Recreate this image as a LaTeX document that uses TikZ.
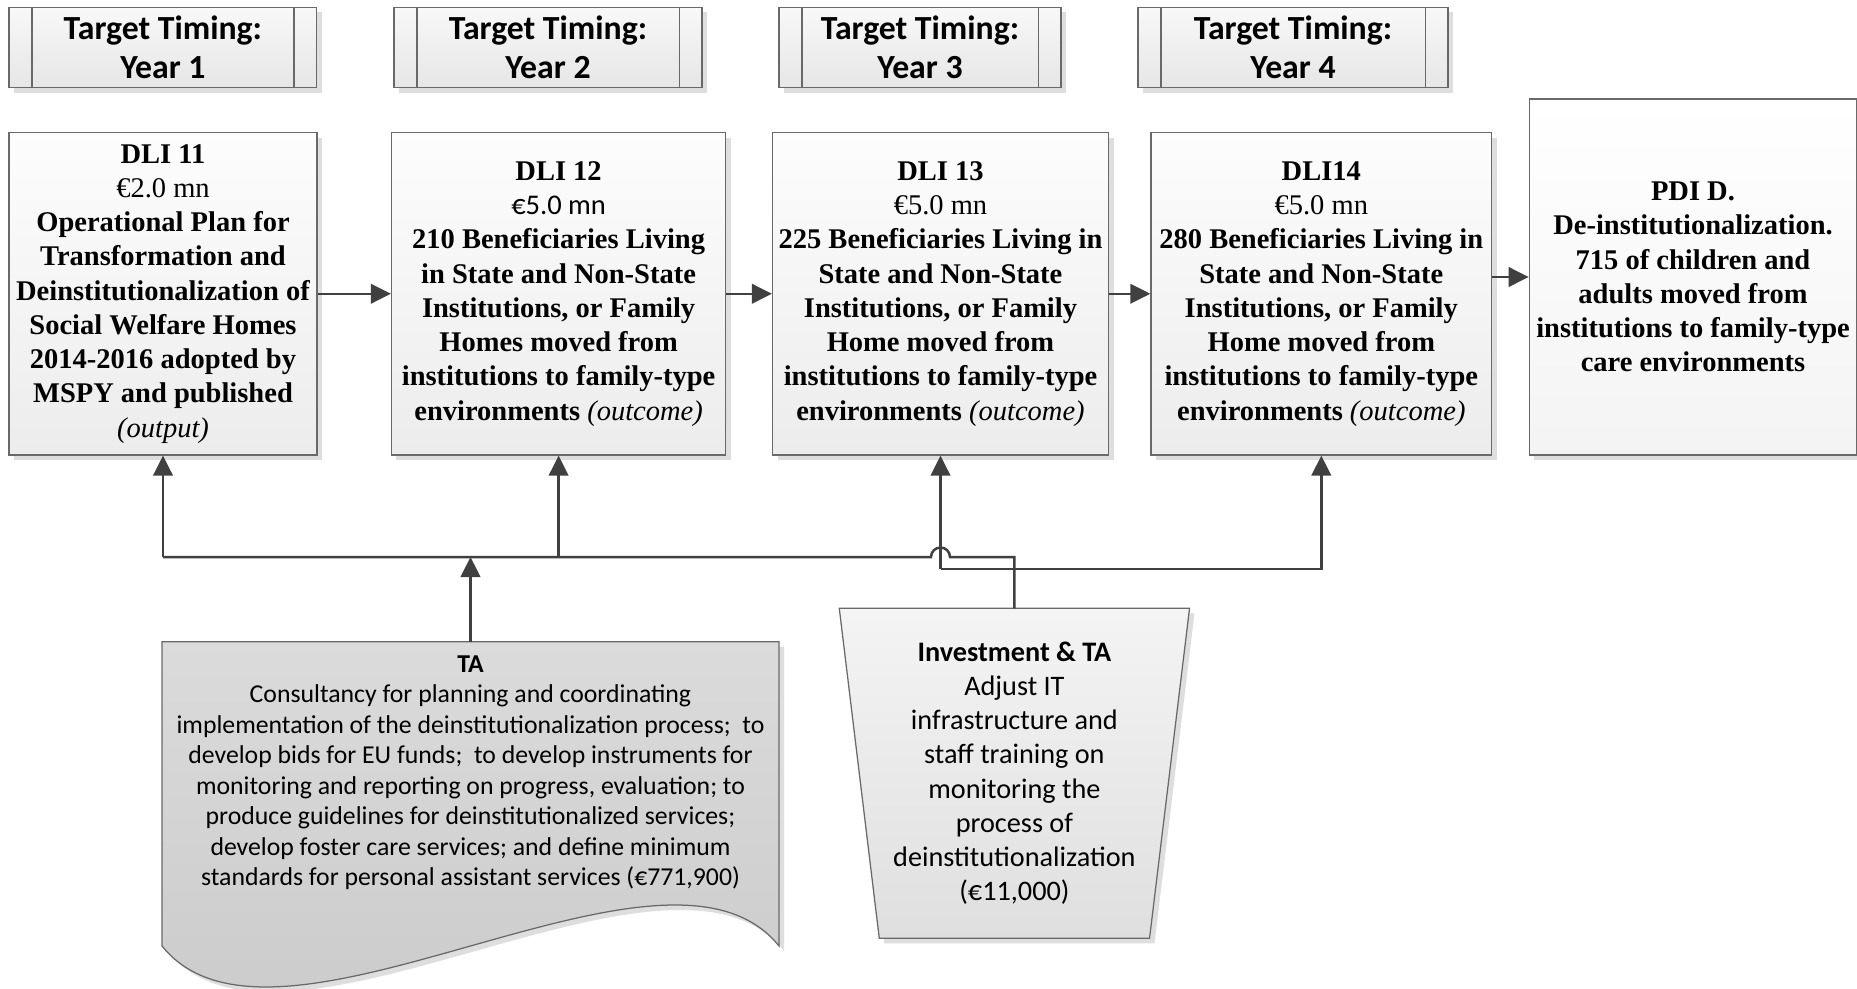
\documentclass[tikz,border=0pt]{standalone}
\usepackage{fontspec}
\setmainfont{Liberation Serif}
\newfontfamily\calibri{Carlito}
\usetikzlibrary{positioning, calc, arrows.meta, shadows, backgrounds}
\definecolor{cLine}{RGB}{64,64,64}
\definecolor{cBorder}{RGB}{105,105,105}
\definecolor{cShadow}{RGB}{222,222,222}
\definecolor{cBoxTop}{RGB}{253,253,253}
\definecolor{cBoxBot}{RGB}{236,236,236}
\definecolor{cTimeTop}{RGB}{248,248,248}
\definecolor{cTimeBot}{RGB}{230,230,230}
\definecolor{cTATop}{RGB}{219,219,219}
\definecolor{cTABot}{RGB}{200,200,200}
\definecolor{cInvTop}{RGB}{244,244,244}
\definecolor{cInvBot}{RGB}{223,223,223}

\begin{document}
\begin{tikzpicture}[x=0.4pt, y=-0.4pt, >={Triangle[length=8pt, width=7.8pt]}]

\useasboundingbox (0,0) rectangle (1857,988);

% ------------------- styles -------------------
\tikzstyle{shadowed} = [drop shadow={shadow xshift=2pt, shadow yshift=-2pt, fill=cShadow, opacity=1}]
\tikzstyle{timebox} = [draw=cBorder, line width=0.5pt, top color=cTimeTop, bottom color=cTimeBot, shadowed, rectangle, minimum height=32.1pt, inner sep=1pt, align=center, font=\calibri\bfseries\fontsize{13.5}{15.3}\selectfont]
\tikzstyle{dlibox} = [draw=cBorder, line width=0.5pt, top color=cBoxTop, bottom color=cBoxBot, shadowed, rectangle, minimum height=129pt, inner sep=1pt, align=center, font=\bfseries\fontsize{11.4}{13.7}\selectfont]
\tikzstyle{shapebox} = [rectangle, inner sep=0pt, outer sep=0pt, align=center]
\tikzstyle{tatext} = [align=center, inner sep=0pt, font=\calibri\fontsize{10.3}{12.2}\selectfont]
\tikzstyle{invtext} = [font=\calibri\fontsize{11.3}{13.7}\selectfont]
\tikzstyle{line} = [draw=cLine, line width=1pt]
\tikzstyle{arrline} = [->, draw=cLine, line width=1pt]

% ------------------- target timing -------------------
\node[timebox, minimum width=123.1pt] (t1) at (162.9,47.4) {Target Timing:\\Year 1};
\node[timebox, minimum width=123.2pt] (t2) at (548,47.4) {Target Timing:\\Year 2};
\node[timebox, minimum width=112.8pt] (t3) at (920,47.4) {Target Timing:\\Year 3};
\node[timebox, minimum width=124pt] (t4) at (1293,47.4) {Target Timing:\\Year 4};
\foreach \t in {t1,t2,t3,t4} {
  \draw[draw=cBorder, line width=0.5pt] ([xshift=9.4pt]\t.north west) -- ([xshift=9.4pt]\t.south west);
  \draw[draw=cBorder, line width=0.5pt] ([xshift=-9.4pt]\t.north east) -- ([xshift=-9.4pt]\t.south east);
}

% ------------------- DLI boxes -------------------
\node[dlibox, minimum width=123.1pt] (dli11) at (163,293.75) {DLI 11\\\textmd{€2.0 mn}\\Operational Plan for\\Transformation and\\Deinstitutionalization of\\Social Welfare Homes\\2014-2016 adopted by\\MSPY and published\\\textmd{\textit{(output)}}};
\node[dlibox, minimum width=133.7pt] (dli12) at (558.6,293.75) {DLI 12\\{\calibri\mdseries €5.0 mn}\\210 Beneficiaries Living\\in State and Non-State\\Institutions, or Family\\Homes moved from\\institutions to family-type\\environments \textmd{\textit{(outcome)}}};
\node[dlibox, minimum width=134.4pt] (dli13) at (940.5,293.75) {DLI 13\\\textmd{€5.0 mn}\\225 Beneficiaries Living in\\State and Non-State\\Institutions, or Family\\Home moved from\\institutions to family-type\\environments \textmd{\textit{(outcome)}}};
\node[dlibox, minimum width=136.3pt] (dli14) at (1321.3,293.75) {DLI14\\\textmd{€5.0 mn}\\280 Beneficiaries Living in\\State and Non-State\\Institutions, or Family\\Home moved from\\institutions to family-type\\environments \textmd{\textit{(outcome)}}};

% PDI
\node[dlibox, top color=white, bottom color=cBoxBot!60, minimum width=131pt, minimum height=142.4pt] (pdi) at (1693,277) {PDI D.\\De-institutionalization.\\715 of children and\\adults moved from\\institutions to family-type\\care environments};

% ------------------- TA and Investment -------------------
\node[shapebox, minimum width=246.8pt, minimum height=121.7pt] (ta) at (470.5,793.85) {};
\node[tatext] (tatxt) at ([yshift=-52.4pt]ta.north) {\textbf{TA}\\Consultancy for planning and coordinating\\implementation of the deinstitutionalization process;\ \ to\\develop bids for EU funds;\ \ to develop instruments for\\monitoring and reporting on progress, evaluation; to\\produce guidelines for deinstitutionalized services;\\develop foster care services; and define minimum\\standards for personal assistant services (€771,900)};

\node[shapebox, invtext, minimum width=140.1pt, minimum height=132pt] (inv) at (1014.4,773.3) {\textbf{Investment \& TA}\\Adjust IT\\infrastructure and\\staff training on\\monitoring the\\process of\\deinstitutionalization\\(€11,000)};

\begin{scope}[on background layer]
\draw[draw=cBorder, line width=0.5pt, top color=cTATop, bottom color=cTABot, shadowed] (ta.north west) -- (ta.north east) -- (ta.south east) .. controls +(-45.6pt,56.8pt) and +(45.6pt,-56.8pt) .. (ta.south west) -- cycle;
\draw[draw=cBorder, line width=0.5pt, top color=cInvTop, bottom color=cInvBot, shadowed] (inv.north west) -- (inv.north east) -- ([xshift=-16pt]inv.south east) -- ([xshift=16pt]inv.south west) -- cycle;
\end{scope}

% ------------------- connectors -------------------
\coordinate (bus) at (0,557);
\coordinate (low) at (0,569);

% 1. DLI chain
\draw[arrline] (dli11.east) -- (dli12.west);
\draw[arrline] (dli12.east) -- (dli13.west);
\draw[arrline] (dli13.east) -- (dli14.west);
\draw[arrline] (dli14.east |- pdi.west) -- (pdi.west);

% 2. TA bus (hop over the DLI 13 line)
\draw[arrline] (ta.north) -- (ta.north |- bus);
\draw[line] (dli11.south |- bus) -- ($(dli13.south |- bus)+(-3.8pt,0)$) arc[start angle=180, end angle=0, radius=3.8pt] -- (inv.north |- bus) -- (inv.north);
\draw[arrline] (dli11.south |- bus) -- (dli11.south);
\draw[arrline] (dli12.south |- bus) -- (dli12.south);

% 3. lower line to DLI 13 and DLI14
\draw[arrline] (dli13.south |- low) -- (dli13.south);
\draw[arrline] (dli13.south |- low) -| (dli14.south);

\end{tikzpicture}
\end{document}
